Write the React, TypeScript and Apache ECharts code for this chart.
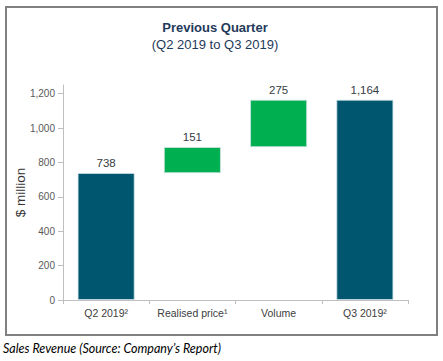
import React, { useEffect, useRef } from "react";
import * as echarts from "echarts";

const categories = ["Q2 2019²", "Realised price¹", "Volume", "Q3 2019²"];
const values = [738, 151, 275, 1164];
const isTotal = [true, false, false, true];
const yTicks = [0, 200, 400, 600, 800, 1000, 1200];

const NAVY = "#00566E";
const GREEN = "#00B050";

export default function App() {
  const ref = useRef<HTMLDivElement>(null);
  useEffect(() => {
    document.body.style.margin = "0";
    const chart = echarts.init(ref.current!, null, { renderer: "svg" });
    let running = 0;
    const base: number[] = [];
    values.forEach((v, i) => {
      if (isTotal[i]) {
        base.push(0);
        running = v;
      } else {
        base.push(running);
        running += v;
      }
    });
    chart.setOption({
      animation: false,
      title: {
        text: "Previous Quarter",
        subtext: "(Q2 2019 to Q3 2019)",
        left: 210,
        textAlign: "center",
        top: 16,
        itemGap: 4,
        textStyle: { fontFamily: "Liberation Sans", fontSize: 13, fontWeight: "bold", color: "#1F3A5A" },
        subtextStyle: { fontFamily: "Liberation Sans", fontSize: 13, color: "#1F3A5A" },
      },
      grid: { left: 63, right: 35, top: 85, bottom: 61, containLabel: false },
      xAxis: {
        type: "category",
        data: categories,
        axisLine: { lineStyle: { color: "#BFBFBF", width: 1 } },
        axisTick: { show: true, length: 4, interval: 0, lineStyle: { color: "#BFBFBF" } },
        axisLabel: { interval: 0, fontFamily: "Liberation Sans", fontSize: 10.5, color: "#404040", margin: 7 },
      },
      yAxis: {
        type: "value",
        min: 0,
        max: 1250,
        interval: 200,
        name: "$ million",
        nameLocation: "middle",
        nameGap: 36,
        nameMoveOverlap: false,
        nameTextStyle: { fontFamily: "Liberation Sans", fontSize: 13.5, color: "#333333" },
        axisLine: { show: true, lineStyle: { color: "#BFBFBF", width: 1 } },
        axisTick: { show: true, length: 5, lineStyle: { color: "#BFBFBF" }, customValues: yTicks },
        axisLabel: {
          fontFamily: "Liberation Sans",
          fontSize: 10,
          color: "#595959",
          margin: 8,
          customValues: yTicks,
          formatter: (v: number) => v.toLocaleString("en-US"),
        },
        splitLine: { show: false },
      },
      series: [
        {
          type: "bar",
          stack: "w",
          data: base,
          barWidth: "66%",
          itemStyle: { color: "transparent" },
          silent: true,
        },
        {
          type: "bar",
          stack: "w",
          data: values.map((v, i) => ({
            value: v,
            itemStyle: { color: isTotal[i] ? NAVY : GREEN },
          })),
          barWidth: "66%",
          itemStyle: { borderColor: "#cfe2e8", borderWidth: 0.8 },
          label: {
            show: true,
            position: "top",
            distance: 4,
            fontFamily: "Liberation Sans",
            fontSize: 11.5,
            color: "#363c44",
            formatter: (p: any) => Number(p.value).toLocaleString("en-US"),
          },
        },
      ],
      graphic: [
        {
          type: "rect",
          shape: { x: 6, y: 7, width: 431, height: 328 },
          style: { fill: "none", stroke: "#808080", lineWidth: 2 },
          silent: true,
        },
        {
          type: "text",
          x: 3,
          y: 348,
          style: {
            text: "Sales Revenue (Source: Company’s Report)",
            font: "italic 12.5px Lato",
            fill: "#000000",
            verticalAlign: "middle",
          },
        },
      ],
    });
    return () => chart.dispose();
  }, []);
  return <div ref={ref} style={{ width: 443, height: 361 }} />;
}
